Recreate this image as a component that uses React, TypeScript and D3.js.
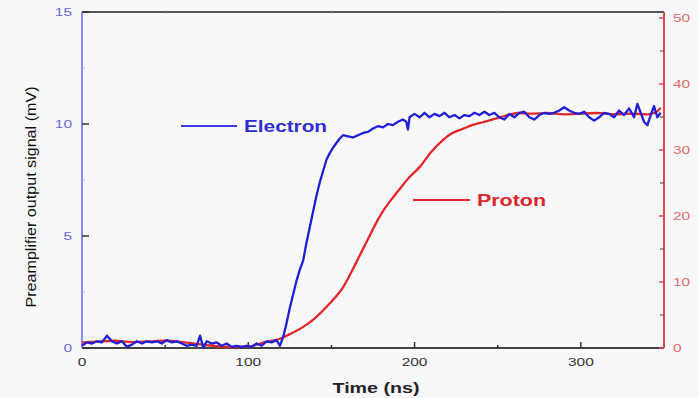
import React from "react";
import * as d3 from "d3";

// Time axis ticks (ns) and the two y scales
const timeTicks = [0, 100, 200, 300];
const timeMinorTicks = [50, 150, 250];
const signalTicks = [0, 5, 10, 15];
const signalMinorTicks = [2.5, 7.5, 12.5];
const protonTicks = [0, 10, 20, 30, 40, 50];
const protonMinorTicks = [5, 15, 25, 35, 45];

// Electron pulse: [time ns, preamplifier signal mV]
const electron: [number, number][] = [
  [0, 0.1], [3, 0.25], [6, 0.2], [9, 0.3], [12, 0.25], [15, 0.55], [18, 0.3], [21, 0.2],
  [24, 0.3], [27, 0.05], [30, 0.15], [33, 0.3], [36, 0.2], [39, 0.3], [42, 0.25], [45, 0.3],
  [48, 0.2], [51, 0.35], [54, 0.25], [57, 0.3], [60, 0.2], [63, 0.1], [66, 0.15], [69, 0.1],
  [71, 0.55], [73, 0.0], [75, 0.3], [78, 0.2], [81, 0.25], [84, 0.1], [87, 0.2], [90, 0.05],
  [93, 0.1], [96, 0.05], [99, 0.1], [102, 0.05], [105, 0.2], [108, 0.1], [111, 0.3], [114, 0.25],
  [117, 0.35], [119, 0.1], [121, 0.5], [123, 1.1], [125, 1.8], [127, 2.4], [129, 3.0], [131, 3.5],
  [133, 3.9], [135, 4.7], [137, 5.4], [139, 6.1], [141, 6.8], [143, 7.4], [145, 7.9], [147, 8.4],
  [149, 8.7], [151, 8.95], [153, 9.15], [155, 9.35], [157, 9.5], [160, 9.45], [163, 9.4], [166, 9.5],
  [169, 9.6], [172, 9.65], [175, 9.8], [178, 9.9], [181, 9.85], [184, 10.0], [187, 9.95], [190, 10.1],
  [193, 10.2], [195, 10.1], [196, 9.75], [197, 10.3], [200, 10.45], [203, 10.3], [206, 10.5], [209, 10.3],
  [212, 10.45], [215, 10.35], [218, 10.5], [221, 10.3], [224, 10.4], [227, 10.25], [230, 10.4], [233, 10.35],
  [236, 10.5], [239, 10.4], [242, 10.55], [245, 10.4], [248, 10.5], [251, 10.3], [254, 10.2], [257, 10.45],
  [260, 10.3], [263, 10.5], [266, 10.55], [269, 10.3], [272, 10.2], [275, 10.4], [278, 10.5], [281, 10.45],
  [284, 10.5], [287, 10.6], [290, 10.75], [293, 10.6], [296, 10.5], [299, 10.45], [302, 10.55], [305, 10.3],
  [308, 10.15], [311, 10.3], [314, 10.5], [317, 10.45], [320, 10.3], [323, 10.6], [326, 10.4], [329, 10.7],
  [332, 10.3], [334, 10.9], [336, 10.5], [338, 10.1], [340, 9.95], [342, 10.4], [344, 10.8], [346, 10.3],
  [348, 10.5],
];

// Proton pulse: [time ns, signal on the right-hand scale]
const proton: [number, number][] = [
  [0, 0.8], [10, 1.0], [20, 1.1], [30, 0.9], [40, 1.0], [50, 1.1], [60, 0.9], [70, 0.6],
  [80, 0.3], [90, 0.15], [100, 0.2], [105, 0.5], [110, 0.9], [115, 1.1], [119, 1.4], [125, 2.1],
  [133, 3.2], [140, 4.5], [147, 6.2], [152, 7.6], [157, 9.2], [162, 11.5], [167, 14.0], [172, 16.5],
  [177, 19.0], [182, 21.1], [187, 22.8], [192, 24.4], [197, 25.9], [203, 27.4], [210, 29.7], [217, 31.5],
  [223, 32.6], [229, 33.2], [235, 33.8], [241, 34.2], [248, 34.7], [255, 35.2], [262, 35.6], [270, 35.5],
  [280, 35.6], [290, 35.4], [300, 35.5], [310, 35.6], [320, 35.4], [330, 35.5], [340, 35.4], [345, 35.7],
  [348, 36.4],
];

const W = 699;
const H = 398;
const left = 82;
const right = 664;
const top = 12;
const bottom = 348;

const BLUE = "#1f1fd6";
const RED = "#e3262a";
const AXIS_BLUE = "#8a8af5";
const AXIS_RED = "#e2464c";

// tick labels use wide digits: stretch each glyph to a fixed width
const labelWidth = (s: string) => s.length * 8.6;

export default function App() {
  const x = d3.scaleLinear().domain([0, 350]).range([left, right]);
  const yL = d3.scaleLinear().domain([0, 15]).range([bottom, top]);
  const yR = d3.scaleLinear().domain([0, 50.9]).range([bottom, top]);

  const eLine = d3
    .line<[number, number]>()
    .x((d) => x(d[0]))
    .y((d) => yL(d[1]))
    .curve(d3.curveLinear);
  const pLine = d3
    .line<[number, number]>()
    .x((d) => x(d[0]))
    .y((d) => yR(d[1]))
    .curve(d3.curveMonotoneX);

  const font = "Liberation Sans, Arial, sans-serif";

  return (
    <svg
      width={W}
      height={H}
      style={{ position: "absolute", left: 0, top: 0, background: "#f8f8fa" }}
      fontFamily={font}
    >
      {/* frame: top and bottom axes */}
      <line x1={left} x2={right} y1={top} y2={top} stroke="#555" strokeWidth={2} />
      <line x1={left} x2={right} y1={bottom} y2={bottom} stroke="#444" strokeWidth={2} />

      {/* time ticks */}
      {timeTicks.map((t) => (
        <g key={"xt" + t}>
          <line x1={x(t)} x2={x(t)} y1={bottom} y2={bottom - 6} stroke="#333" strokeWidth={1.5} />
          <text
            x={x(t)}
            y={bottom + 18}
            textAnchor="middle"
            fontSize={11.5}
            fill="#333"
            textLength={labelWidth(String(t))}
            lengthAdjust="spacingAndGlyphs"
          >
            {t}
          </text>
        </g>
      ))}
      {timeMinorTicks.map((t) => (
        <g key={"xm" + t}>
          <line x1={x(t)} x2={x(t)} y1={bottom} y2={bottom - 3} stroke="#333" strokeWidth={1.5} />
          <line x1={x(t)} x2={x(t)} y1={top} y2={top + 2} stroke="#aaa" strokeWidth={1} />
        </g>
      ))}

      {/* left signal axis */}
      <line x1={left} x2={left} y1={top} y2={bottom} stroke={AXIS_BLUE} strokeWidth={2} />
      {signalTicks.map((v) => (
        <g key={"yl" + v}>
          <line x1={left} x2={left + 7} y1={yL(v)} y2={yL(v)} stroke="#333" strokeWidth={1.5} />
          <text
            x={left - 10}
            y={yL(v) + 4}
            textAnchor="end"
            fontSize={11.5}
            fill="#6a6ad8"
            textLength={labelWidth(String(v))}
            lengthAdjust="spacingAndGlyphs"
          >
            {v}
          </text>
        </g>
      ))}
      {signalMinorTicks.map((v) => (
        <line key={"ylm" + v} x1={left} x2={left + 3} y1={yL(v)} y2={yL(v)} stroke="#bbb" strokeWidth={1} />
      ))}

      {/* right proton axis */}
      <line x1={right} x2={right} y1={top} y2={bottom} stroke={AXIS_RED} strokeWidth={2} />
      {protonTicks.map((v) => (
        <g key={"yr" + v}>
          <line x1={right} x2={right - 5} y1={yR(v)} y2={yR(v)} stroke={AXIS_RED} strokeWidth={1.5} />
          <text
            x={right + 9}
            y={yR(v) + 4}
            textAnchor="start"
            fontSize={11.5}
            fill="#e06a6e"
            textLength={labelWidth(String(v))}
            lengthAdjust="spacingAndGlyphs"
          >
            {v}
          </text>
        </g>
      ))}
      {protonMinorTicks.map((v) => (
        <line key={"yrm" + v} x1={right} x2={right - 4} y1={yR(v)} y2={yR(v)} stroke="#555" strokeWidth={1.2} />
      ))}

      {/* traces */}
      <path d={pLine(proton) ?? ""} fill="none" stroke={RED} strokeWidth={2.3} strokeLinejoin="round" />
      <path d={eLine(electron) ?? ""} fill="none" stroke={BLUE} strokeWidth={2.3} strokeLinejoin="round" />

      {/* series labels */}
      <line x1={181} x2={237} y1={126} y2={126} stroke="#3a3ae0" strokeWidth={2} />
      <text
        x={244}
        y={132}
        fontSize={16}
        fontWeight="bold"
        fill="#2d2dcf"
        textLength={83}
        lengthAdjust="spacingAndGlyphs"
      >
        Electron
      </text>
      <line x1={413} x2={470} y1={200} y2={200} stroke={RED} strokeWidth={2} />
      <text
        x={477}
        y={206}
        fontSize={16.5}
        fontWeight="bold"
        fill="#d8262a"
        textLength={69}
        lengthAdjust="spacingAndGlyphs"
      >
        Proton
      </text>

      {/* axis titles */}
      <text
        transform={`translate(36,${197}) rotate(-90)`}
        textAnchor="middle"
        fontSize={14}
        fill="#111"
        textLength={221}
        lengthAdjust="spacingAndGlyphs"
      >
        Preamplifier output signal (mV)
      </text>
      <text
        x={376}
        y={393}
        textAnchor="middle"
        fontSize={15}
        fontWeight="bold"
        fill="#222"
        textLength={87}
        lengthAdjust="spacingAndGlyphs"
      >
        Time (ns)
      </text>
    </svg>
  );
}
